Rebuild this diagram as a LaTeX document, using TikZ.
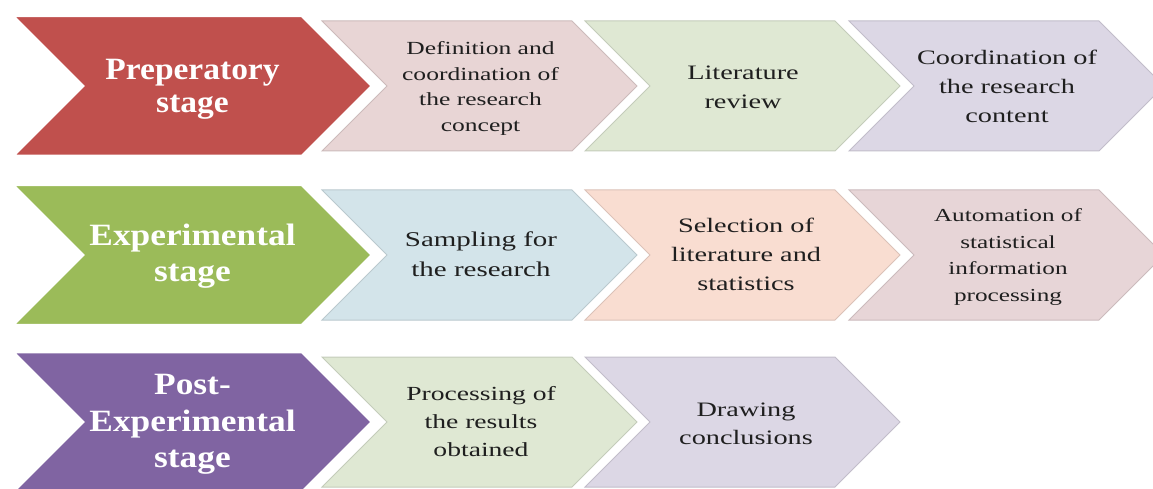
\documentclass[tikz,border=0pt]{standalone}
\usepackage{fontspec}
\setmainfont{Liberation Serif}
\usepackage{graphicx}
\definecolor{cRed}{HTML}{C0504D}
\definecolor{cGreen}{HTML}{9BBB59}
\definecolor{cPurple}{HTML}{8064A2}
\definecolor{cPink}{HTML}{E8D5D5}
\definecolor{cLGreen}{HTML}{DFE8D3}
\definecolor{cLav}{HTML}{DCD7E5}
\definecolor{cBlue}{HTML}{D3E4EA}
\definecolor{cPeach}{HTML}{F9DDD1}
\definecolor{cMauve}{HTML}{E7D5D7}
\newcommand\chv[5]{% style, xleft, ycenter, width, half-height
  \path[#1] (#2,#3-#5) -- ++(#4-#5,0) -- ++(#5,#5) -- ++(-#5,#5) -- ++(-#4+#5,0) -- ++(#5,-#5) -- cycle;}
\newcommand\stk[4]{\scalebox{#1}[1]{\fontsize{#2}{#3}\selectfont\begin{tabular}{@{}c@{}}#4\end{tabular}}}
\tikzset{
  bigchev/.style={fill=#1, draw=white, line width=2.5pt, line join=miter},
  smallchev/.style={fill=#1, draw=#1!88!black, line width=1pt, line join=miter},
  lbl/.style={text=white, font=\bfseries, inner sep=0pt, anchor=center},
  txt/.style={text=black!88, inner sep=0pt, anchor=center}
}
\begin{document}
\begin{tikzpicture}[x=1pt,y=-1pt]
\useasboundingbox (0,0) rectangle (1153,489);
% Row 1
\chv{smallchev=cPink}{322}{86}{315}{65}
\chv{smallchev=cLGreen}{585}{86}{315}{65}
\chv{smallchev=cLav}{849}{86}{315}{65}
\chv{bigchev=cRed}{13}{86}{359}{70}
% Row 2
\chv{smallchev=cBlue}{322}{255}{315}{65}
\chv{smallchev=cPeach}{585}{255}{315}{65}
\chv{smallchev=cMauve}{849}{255}{315}{65}
\chv{bigchev=cGreen}{13}{255}{359}{70}
% Row 3
\chv{smallchev=cLGreen}{322}{422}{315}{65}
\chv{smallchev=cLav}{585}{422}{315}{65}
\chv{bigchev=cPurple}{13}{422}{359}{70}
% Labels row 1
\node[lbl] (s1) at (192.5,89) {\stk{1.08}{31}{33}{Preperatory\\stage}};
\node[txt] (a1) at (480.5,88) {\stk{1.38}{18.5}{25.5}{Definition and\\coordination of\\the research\\concept}};
\node[txt] (a2) at (743,88) {\stk{1.38}{20.5}{29}{Literature\\review}};
\node[txt] (a3) at (1007,88) {\stk{1.38}{20.5}{29}{Coordination of\\the research\\content}};
% Labels row 2
\node[lbl] (s2) at (192.5,256) {\stk{1.14}{31}{36}{Experimental\\stage}};
\node[txt] (b1) at (481,255) {\stk{1.38}{21}{30}{Sampling for\\the research}};
\node[txt] (b2) at (746,256) {\stk{1.38}{20.5}{29}{Selection of\\literature and\\statistics}};
\node[txt] (b3) at (1008,256) {\stk{1.38}{18.3}{26.5}{Automation of\\statistical\\information\\processing}};
% Labels row 3
\node[lbl] (s3) at (192.5,424) {\stk{1.14}{31}{36.5}{Post-\\Experimental\\stage}};
\node[txt] (c1) at (481,423) {\stk{1.38}{20}{28}{Processing of\\the results\\obtained}};
\node[txt] (c2) at (746,425) {\stk{1.38}{20.5}{28}{Drawing\\conclusions}};
\end{tikzpicture}
\end{document}
